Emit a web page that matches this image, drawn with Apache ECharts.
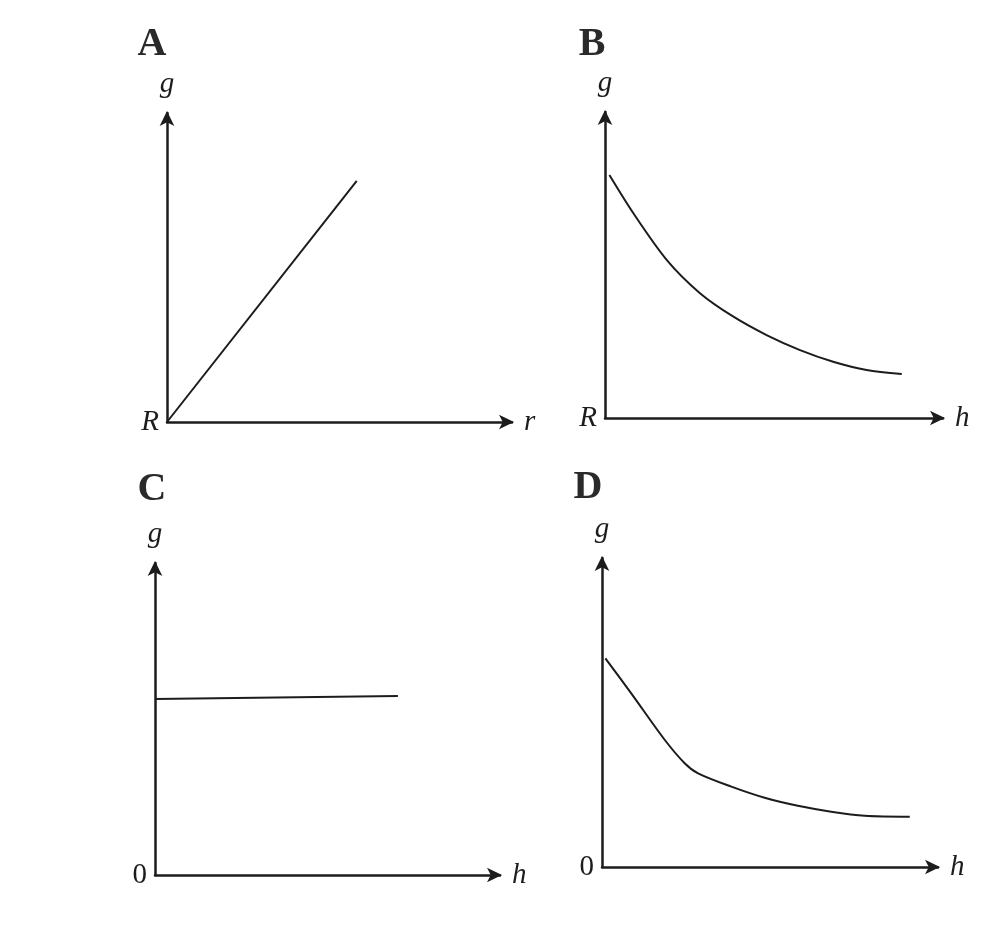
<!DOCTYPE html>
<html><head><meta charset="utf-8">
<script src="https://cdn.jsdelivr.net/npm/echarts@6/dist/echarts.min.js"></script>
<style>html,body{margin:0;padding:0;background:#fff}#c{width:1003px;height:933px}</style>
</head><body><div id="c"></div>
<script>
// Panel titles and axis texts
const panelTitles = ['A', 'B', 'C', 'D'];
const xNames = ['r', 'h', 'h', 'h'];
const originLabels = ['R', 'R', '0', '0'];
const yName = 'g';
// Series data [x, y] in arbitrary units (0..100 axis range)
const dataA = [[0, 0], [55, 78]];
const dataB = [[1.3, 79.4], [8.4, 66.9], [18.3, 51.6], [28.1, 40.8], [38.0, 33.1], [47.8, 27.1], [57.7, 22.2], [67.5, 18.4], [77.4, 15.7], [87.8, 14.4]];
const dataC = [[0, 56.4], [70.4, 57.4]];
const dataD = [[1.0, 67.5], [8.7, 56.2], [18.7, 41.1], [24.6, 33.6], [28.6, 30.3], [38.5, 26.0], [48.4, 22.4], [58.3, 19.8], [68.2, 17.9], [78.2, 16.6], [91.6, 16.3]];
const panelData = [dataA, dataB, dataC, dataD];

const ink = '#1c1c1c';
const grids = [
  {left: 167, top: 113, width: 345, height: 309},
  {left: 605, top: 112, width: 338, height: 306},
  {left: 155, top: 563, width: 345, height: 312},
  {left: 602, top: 558, width: 336, height: 309}
];
const titlePos = [[147, 20], [587, 20], [147, 465], [583, 463]];

const chart = echarts.init(document.getElementById('c'), null, {renderer: 'canvas'});
const axisLine = {show: true, lineStyle: {color: ink, width: 2.5}, symbol: ['none', 'arrow'], symbolSize: [11, 15], symbolOffset: [0, 2]};
const nameStyle = {fontFamily: 'Liberation Serif', fontStyle: 'italic', fontSize: 29, color: ink};

const option = {
  backgroundColor: '#ffffff',
  animation: false,
  title: panelTitles.map((t, i) => ({
    text: t, left: titlePos[i][0], top: titlePos[i][1], textAlign: 'center',
    textStyle: {fontFamily: 'Liberation Serif', fontWeight: 'bold', fontSize: 40, color: '#2a2a2a'}
  })),
  grid: grids.map(g => Object.assign({outerBoundsMode: 'none', containLabel: false}, g)),
  xAxis: grids.map((g, i) => ({
    type: 'value', gridIndex: i, min: 0, max: 100,
    axisLine: axisLine, axisTick: {show: false}, splitLine: {show: false},
    axisLabel: {show: false},
    name: xNames[i], nameLocation: 'end', nameGap: 12, nameTextStyle: nameStyle
  })),
  yAxis: grids.map((g, i) => ({
    type: 'value', gridIndex: i, min: 0, max: 100, interval: 100,
    axisLine: axisLine, axisTick: {show: false}, splitLine: {show: false},
    axisLabel: {show: true, margin: 8, formatter: v => v === 0 ? originLabels[i] : '',
      fontFamily: 'Liberation Serif', fontStyle: originLabels[i] === 'R' ? 'italic' : 'normal', fontSize: 29, color: ink},
    name: yName, nameLocation: 'end', nameGap: 14, nameTextStyle: nameStyle
  })),
  series: panelData.map((d, i) => ({
    type: 'line', xAxisIndex: i, yAxisIndex: i, data: d,
    smooth: (i === 1 || i === 3) ? 0.3 : false,
    showSymbol: false, symbol: 'none',
    lineStyle: {color: ink, width: 2}
  }))
};
chart.setOption(option);
</script></body></html>
